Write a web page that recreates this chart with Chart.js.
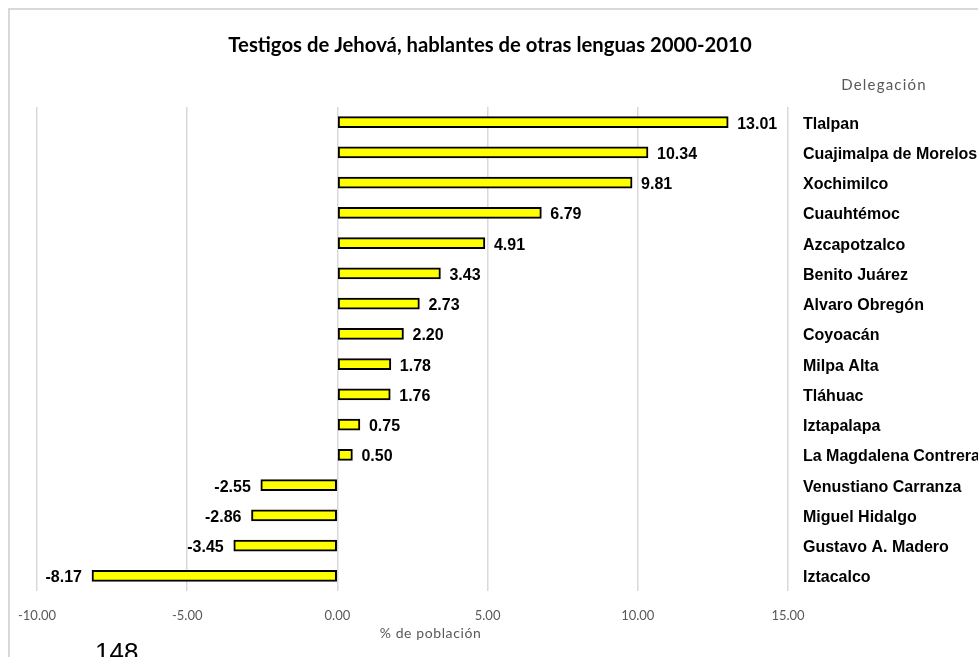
<!DOCTYPE html>
<html lang="es">
<head>
<meta charset="utf-8">
<script src="https://cdn.jsdelivr.net/npm/chart.js@4"></script>
<style>
  html, body { margin: 0; padding: 0; width: 978px; height: 657px; overflow: hidden; background: #fff; }
  #marco { position: absolute; left: 8px; top: 8px; width: 1100px; height: 700px; border: 2px solid #d9d9d9; }
  #lienzo { position: absolute; left: 10px; top: 10px; width: 990px; height: 650px; }
  #pagina { position: absolute; left: 95px; top: 637px; font: 26px "Liberation Sans", Arial, sans-serif; color: #000; }
</style>
</head>
<body>
<div id="marco"></div>
<div id="lienzo"><canvas id="grafica"></canvas></div>
<div id="pagina">148</div>
<script>
// Delegaciones (de arriba hacia abajo)
const delegaciones = [
  "Tlalpan", "Cuajimalpa de Morelos", "Xochimilco", "Cuauhtémoc", "Azcapotzalco",
  "Benito Juárez", "Alvaro Obregón", "Coyoacán", "Milpa Alta", "Tláhuac",
  "Iztapalapa", "La Magdalena Contreras", "Venustiano Carranza", "Miguel Hidalgo",
  "Gustavo A. Madero", "Iztacalco"
];
// % de población, cambio 2000-2010
const porcentajes = [13.01, 10.34, 9.81, 6.79, 4.91, 3.43, 2.73, 2.20, 1.78, 1.76, 0.75, 0.50, -2.55, -2.86, -3.45, -8.17];
// marcas del eje
const marcasX = [-10, -5, 0, 5, 10, 15];

const titulo = "Testigos de Jehová, hablantes de otras lenguas 2000-2010";
const tituloEjeY = "Delegación";
const tituloEjeX = "% de población";

// título, etiquetas de valor junto a cada barra y textos de los ejes
const etiquetasPlugin = {
  id: "etiquetas",
  afterDatasetsDraw(chart) {
    const ctx = chart.ctx;
    const meta = chart.getDatasetMeta(0);
    const area = chart.chartArea;
    ctx.save();
    ctx.font = 'bold 16px "Liberation Sans", Arial, sans-serif';
    ctx.fillStyle = "#000";
    ctx.textBaseline = "middle";
    meta.data.forEach((barra, i) => {
      const v = porcentajes[i];
      if (v >= 0) {
        ctx.textAlign = "left";
        ctx.fillText(v.toFixed(2), barra.x + 9, barra.y + 2);
      } else {
        ctx.textAlign = "right";
        ctx.fillText(v.toFixed(2), barra.x - 10, barra.y + 2);
      }
    });
    // título (centrado algo a la izquierda del lienzo, como en el original)
    ctx.textAlign = "center";
    ctx.font = 'bold 20.3px Lato, "Open Sans", sans-serif';
    ctx.fillText(titulo, 480, 35);

    ctx.font = '15px Lato, "Open Sans", sans-serif';
    ctx.fillStyle = "#595959";
    ctx.letterSpacing = "1.2px";
    ctx.fillText(tituloEjeY, area.right + 96, area.top - 22);
    ctx.letterSpacing = "0.6px";
    ctx.font = '14px Lato, "Open Sans", sans-serif';
    ctx.fillText(tituloEjeX, chart.scales.x.getPixelForValue(3.1), area.bottom + 42);
    ctx.restore();
  }
};

new Chart(document.getElementById("grafica"), {
  type: "bar",
  data: {
    labels: delegaciones,
    datasets: [{
      data: porcentajes,
      backgroundColor: "#ffff00",
      borderColor: "#000000",
      borderWidth: 2,
      borderSkipped: false,
      barThickness: 11
    }]
  },
  options: {
    indexAxis: "y",
    responsive: true,
    maintainAspectRatio: false,
    animation: false,
    layout: { padding: { left: 27, right: 0, top: 97, bottom: 0 } },
    plugins: {
      legend: { display: false },
      tooltip: { enabled: false },
      title: { display: false }
    },
    scales: {
      x: {
        min: -10,
        max: 15,
        afterBuildTicks: s => { s.ticks = marcasX.map(v => ({ value: v })); },
        afterFit: s => { s.height = 69; s.paddingLeft = 0; s.paddingRight = 0; },
        ticks: {
          color: "#595959",
          padding: 17,
          font: { family: 'Lato, "Open Sans", sans-serif', size: 13 },
          callback: v => v.toFixed(2)
        },
        grid: { color: "#d9d9d9", lineWidth: 1.5, drawTicks: false },
        border: { display: false }
      },
      y: {
        position: "right",
        afterFit: s => { s.width = 212; s.paddingTop = 0; s.paddingBottom = 0; },
        ticks: {
          color: "#000",
          padding: 15,
          labelOffset: 2,
          font: { family: '"Liberation Sans", Arial, sans-serif', size: 16, weight: "bold" }
        },
        grid: { display: false, drawTicks: false },
        border: { display: false }
      }
    }
  },
  plugins: [etiquetasPlugin]
});
</script>
</body>
</html>
